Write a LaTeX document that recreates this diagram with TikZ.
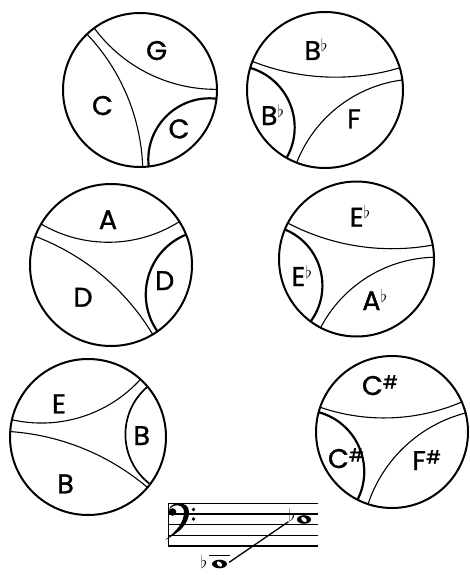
\documentclass[tikz,border=0pt]{standalone}
\usepackage{fontspec}
\setmainfont{Poppins}
\newfontfamily\lblfont{Poppins}[FakeBold=1.2]
\usetikzlibrary{shapes.geometric}

% superscript flat and sharp after a note name
\newcommand{\fl}{\raisebox{8pt}{\fontsize{18}{18}\selectfont$\flat$}}
\newcommand{\sh}{\raisebox{6.5pt}{\fontsize{18}{18}\selectfont\#}}
% arc inside the rim from angle #2 to angle #3, meeting the rim square on
\newcommand{\geo}[3][]{%
  \pgfmathsetmacro{\arcspan}{abs(#3-#2)}%
  \pgfmathsetmacro{\ctlf}{1-4*sin(\arcspan/2)/(3*(1+sin(\arcspan/2)))}%
  \draw[#1] (#2:\rad) .. controls (#2:{\ctlf*\rad}) and (#3:{\ctlf*\rad}) .. (#3:\rad);}

\begin{document}
\begin{tikzpicture}[x=1pt, y=-1pt,
  rim/.style={line width=2pt},
  edge/.style={line width=1.1pt},
  heavy/.style={line width=2.2pt},
  lbl/.style={font=\lblfont\fontsize{27}{27}\selectfont, inner sep=0pt, anchor=base},
  staff/.style={line width=1.2pt},
  note/.style={ellipse, minimum width=14pt, minimum height=9pt, inner sep=0pt},
  link/.style={line width=1.3pt, shorten <=3pt}
]
\useasboundingbox (0,0) rectangle (469,575);

% C G C
\begin{scope}[shift={(140,90)}]\def\rad{77pt}
  \draw[rim] (0,0) circle (\rad);
  \geo[edge]{126.5}{0.5}
  \geo[edge]{133.5}{272}
  \geo[heavy]{-83.5}{-6.5}
\end{scope}
\node[lbl] (g1) at (156.7,60) {G};
\node[lbl] (c1) at (102.5,115) {C};
\node[lbl] (c2) at (179,138.3) {C};

% Bb Bb F
\begin{scope}[shift={(325,90)}]\def\rad{78pt}
  \draw[rim] (0,0) circle (\rad);
  \geo[edge]{158.5}{16.5}
  \geo[heavy]{163.5}{240.5}
  \geo[edge]{-111.3}{7.4}
\end{scope}
\node[lbl] (bb1) at (316,60) {B\fl};
\node[lbl] (bb2) at (272.5,125) {B\fl};
\node[lbl] (f1) at (354,128.3) {F};

% A D D
\begin{scope}[shift={(111,265)}]\def\rad{81pt}
  \draw[rim] (0,0) circle (\rad);
  \geo[edge]{149.6}{32.4}
  \geo[edge]{159.3}{301}
  \geo[heavy]{-55}{22}
\end{scope}
\node[lbl] (a1) at (108,229) {A};
\node[lbl] (d1) at (83,306.7) {D};
\node[lbl] (d2) at (164.7,290) {D};

% Eb Eb Ab
\begin{scope}[shift={(356.5,259)}]\def\rad{77.5pt}
  \draw[rim] (0,0) circle (\rad);
  \geo[edge]{152.4}{10.4}
  \geo[heavy]{157.6}{233.7}
  \geo[edge]{-117.6}{1.3}
\end{scope}
\node[lbl] (eb1) at (360,226.7) {E\fl};
\node[lbl] (eb2) at (301.7,286) {E\fl};
\node[lbl] (ab1) at (374.7,310) {A\fl};

% E B B
\begin{scope}[shift={(88,437)}]\def\rad{78pt}
  \draw[rim] (0,0) circle (\rad);
  \geo[edge]{167.2}{47.7}
  \geo[edge]{176}{319.7}
  \geo[line width=1.7pt]{40.2}{-37.2}
\end{scope}
\node[lbl] (e1) at (59,413.3) {E};
\node[lbl] (b1) at (141.7,445) {B};
\node[lbl] (b2) at (65.5,493.3) {B};

% C# C# F#
\begin{scope}[shift={(392,432)}]\def\rad{76pt}
  \draw[rim] (0,0) circle (\rad);
  \geo[edge]{161}{23.3}
  \geo[heavy]{164.9}{243}
  \geo[edge]{-108.4}{14.5}
\end{scope}
\node[lbl] (cs1) at (380,395) {C\sh};
\node[lbl] (cs2) at (346,468) {C\sh};
\node[lbl] (fs1) at (426.7,470) {F\sh};

% staff with bass clef
\foreach \yy in {503.5,514,524.7,535.3,546}
  \draw[staff] (168,\yy) -- (318,\yy);
\draw[staff] (168.5,503.5) -- (168.5,546);
\fill (172.5,512) circle (3.8);
\fill (169,510) .. controls (170,501) and (189,500) .. (189,512)
  .. controls (189,524) and (179,533) .. (165,540)
  .. controls (177,531) and (184,522) .. (184,512)
  .. controls (184,504) and (173,503) .. cycle;
\fill (193.5,509.5) circle (1.8);
\fill (193.5,519) circle (1.8);

% E flat on the staff, E flat below it
\node[note] (hi) at (304,519.5) {};
\fill[even odd rule] (hi) ellipse (7 and 4.3)
  {[rotate around={-40:(hi)}] (hi) ellipse (3.3 and 2.1)};
\node[inner sep=0pt, font=\fontsize{19}{19}\selectfont] (hifl) at (292,515) {$\flat$};
\draw[staff] (209,555.5) -- (230,555.5);
\node[note] (lo) at (219.5,564) {};
\fill[even odd rule] (lo) ellipse (7.5 and 4.3)
  {[rotate around={-40:(lo)}] (lo) ellipse (3.4 and 2.1)};
\node[inner sep=0pt, font=\fontsize{19}{19}\selectfont] (lofl) at (204,562) {$\flat$};
\draw[link] (lo.east) -- (hifl.south west);
\end{tikzpicture}
\end{document}
